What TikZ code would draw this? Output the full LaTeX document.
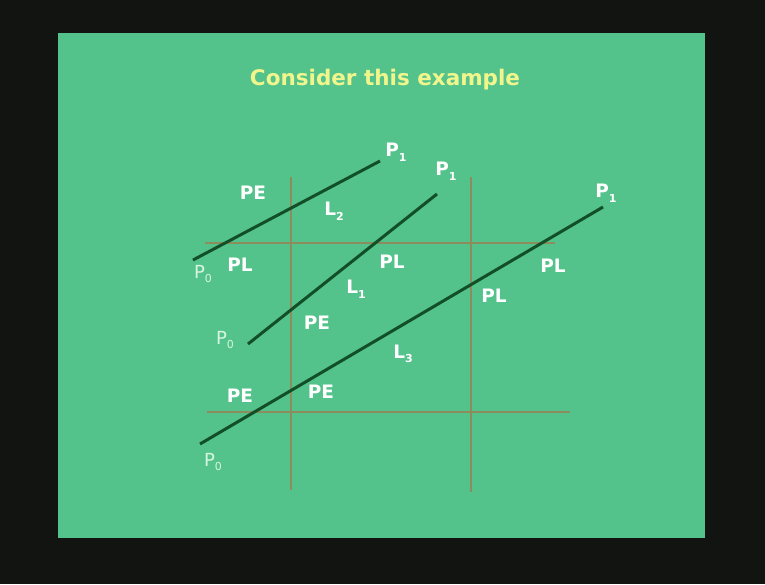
\documentclass[tikz,border=0pt]{standalone}
\usepackage{fontspec}
\setmainfont{DejaVu Sans}
\definecolor{bgdark}{RGB}{17,20,16}
\definecolor{slide}{RGB}{84,195,139}
\definecolor{titley}{RGB}{240,245,140}
\definecolor{segcol}{RGB}{18,78,38}
\definecolor{gridcol}{RGB}{140,140,92}
\definecolor{pzero}{RGB}{215,245,225}
\newcommand\lsub[1]{\raisebox{-0.45ex}{\fontsize{11}{11}\selectfont #1}}
\tikzset{
  lab/.style={text=white,font=\fontsize{18.5}{18.5}\selectfont\bfseries,inner sep=0pt},
  plab/.style={text=pzero,font=\fontsize{18}{18}\selectfont,inner sep=0pt},
  seg/.style={draw=segcol,line width=3pt},
  gridln/.style={draw=gridcol,line width=1.3pt}
}
\begin{document}
\begin{tikzpicture}[x=1pt,y=-1pt]
\useasboundingbox (0,0) rectangle (765,584);
\fill[bgdark] (0,0) rectangle (765,584);
\fill[slide] (58,33) rectangle (705,538);
\node[text=titley,font=\fontsize{21.5}{21.5}\selectfont\bfseries,inner sep=0pt] (title) at (385,80) {Consider this example};
% grid
\coordinate (v1t) at (291,177); \coordinate (v1b) at (291,490);
\coordinate (v2t) at (471,177); \coordinate (v2b) at (471,492);
\coordinate (h1l) at (205,243); \coordinate (h1r) at (555,243);
\coordinate (h2l) at (207,412); \coordinate (h2r) at (570,412);
\draw[gridln] (v1t) -- (v1b);
\draw[gridln] (v2t) -- (v2b);
\draw[gridln] (h1l) -- (h1r);
\draw[gridln] (h2l) -- (h2r);
% segments
\coordinate (a0) at (193,260); \coordinate (a1) at (380,161);
\coordinate (b0) at (248,344); \coordinate (b1) at (437,194);
\coordinate (c0) at (200,444); \coordinate (c1) at (603,207);
\draw[seg] (a0) -- (a1);
\draw[seg] (b0) -- (b1);
\draw[seg] (c0) -- (c1);
% endpoint labels
\node[lab] (ap1) at (396,152) {P\lsub{1}};
\node[lab] (bp1) at (446,171) {P\lsub{1}};
\node[lab] (cp1) at (606,193) {P\lsub{1}};
\node[plab] (ap0) at (203,274) {P\lsub{0}};
\node[plab] (bp0) at (225,340) {P\lsub{0}};
\node[plab] (cp0) at (213,462) {P\lsub{0}};
% region labels
\node[lab] (pe1) at (253,193) {PE};
\node[lab] (l2) at (334,211) {L\lsub{2}};
\node[lab] (pl1) at (240,265) {PL};
\node[lab] (pl2) at (392,262) {PL};
\node[lab] (l1) at (356,289) {L\lsub{1}};
\node[lab] (pe2) at (317,323) {PE};
\node[lab] (pl3) at (553,266) {PL};
\node[lab] (pl4) at (494,296) {PL};
\node[lab] (l3) at (403,354) {L\lsub{3}};
\node[lab] (pe3) at (240,396) {PE};
\node[lab] (pe4) at (321,392) {PE};
\end{tikzpicture}
\end{document}
